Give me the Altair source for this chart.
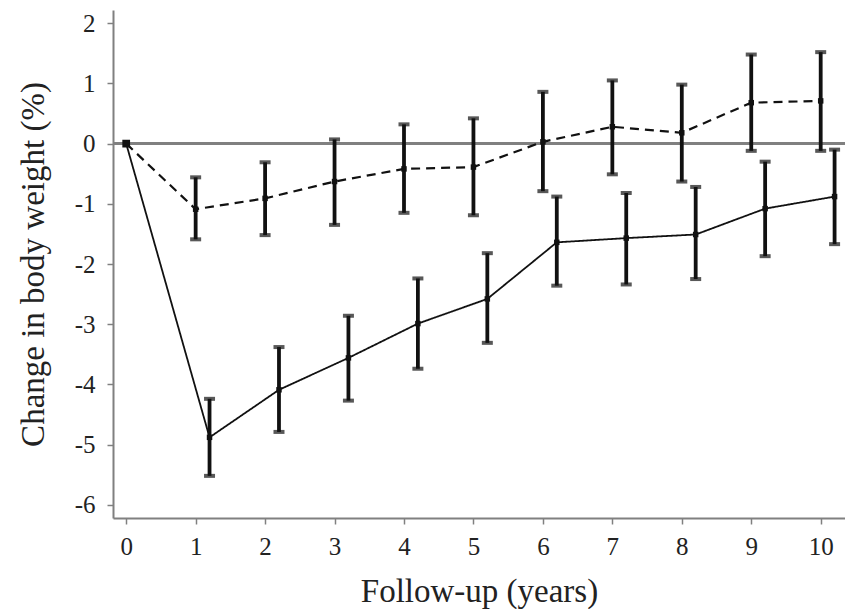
import altair as alt
import pandas as pd

# Data
dashed_x = [0, 1, 2, 3, 4, 5, 6, 7, 8, 9, 10]
dashed_y = [0.0, -1.09, -0.91, -0.63, -0.42, -0.39, 0.03, 0.28, 0.18, 0.68, 0.71]
dashed_lo = [None, -1.59, -1.52, -1.35, -1.15, -1.19, -0.79, -0.51, -0.63, -0.12, -0.12]
dashed_hi = [None, -0.56, -0.31, 0.07, 0.32, 0.42, 0.86, 1.05, 0.98, 1.48, 1.52]

solid_x = [0, 1.2, 2.2, 3.2, 4.2, 5.2, 6.2, 7.2, 8.2, 9.2, 10.2]
solid_y = [0.0, -4.88, -4.09, -3.56, -2.99, -2.58, -1.64, -1.57, -1.51, -1.08, -0.88]
solid_lo = [None, -5.52, -4.79, -4.27, -3.74, -3.31, -2.36, -2.34, -2.25, -1.87, -1.67]
solid_hi = [None, -4.24, -3.38, -2.86, -2.24, -1.82, -0.88, -0.82, -0.72, -0.30, -0.10]

x_ticks = [0, 1, 2, 3, 4, 5, 6, 7, 8, 9, 10]
y_ticks = [-6, -5, -4, -3, -2, -1, 0, 1, 2]

FONT = "Liberation Serif"

dashed = pd.DataFrame({"x": dashed_x, "y": dashed_y, "lo": dashed_lo, "hi": dashed_hi})
solid = pd.DataFrame({"x": solid_x, "y": solid_y, "lo": solid_lo, "hi": solid_hi})

xscale = alt.Scale(domain=[-0.19, 10.35], nice=False, zero=False)
yscale = alt.Scale(domain=[-6.22, 2.22], nice=False, zero=False)

X = alt.X("x:Q", scale=xscale,
          axis=alt.Axis(values=x_ticks, title="Follow-up (years)", grid=False,
                        labelExpr="'' + datum.value", titlePadding=16,
                        labelPadding=10, titleFontSize=33))
Y = alt.Y("y:Q", scale=yscale,
          axis=alt.Axis(values=y_ticks, title="Change in body weight (%)", grid=False,
                        labelExpr="'' + datum.value", titlePadding=24,
                        labelPadding=12, titleFontSize=33))

zero = alt.Chart(pd.DataFrame({"z": [0]})).mark_rule(color="#808080", strokeWidth=3).encode(
    y=alt.Y("z:Q", scale=yscale)
)

def series(df, dash, lw):
    base = alt.Chart(df)
    line = base.mark_line(color="#111", strokeWidth=lw, strokeDash=dash).encode(x=X, y=Y)
    eb = base.transform_filter("datum.lo != null")
    rule = eb.mark_rule(color="#111", strokeWidth=3.8).encode(
        x="x:Q", y=alt.Y("lo:Q", scale=yscale), y2="hi:Q")
    cap_lo = eb.mark_tick(color="#111", orient="horizontal", size=11, thickness=4).encode(
        x="x:Q", y=alt.Y("lo:Q", scale=yscale))
    cap_hi = eb.mark_tick(color="#111", orient="horizontal", size=11, thickness=4).encode(
        x="x:Q", y=alt.Y("hi:Q", scale=yscale))
    pts = eb.mark_square(color="#111", size=30, opacity=1).encode(x="x:Q", y=alt.Y("y:Q", scale=yscale))
    return [line, rule, cap_lo, cap_hi, pts]

origin = alt.Chart(pd.DataFrame({"x": [0], "y": [0]})).mark_square(
    color="#111", size=60, opacity=1).encode(x="x:Q", y=alt.Y("y:Q", scale=yscale))

chart = alt.layer(
    zero,
    *series(dashed, [9, 6], 2.2),
    *series(solid, [1, 0], 1.8),
    origin,
).properties(
    width=732, height=508,
    autosize=alt.AutoSizeParams(type="none"),
    padding={"left": 113, "top": 10, "right": 0, "bottom": 91},
).configure_view(stroke=None).configure_axis(
    domainColor="#808080", domainWidth=2, tickColor="#808080", tickWidth=1.5, tickSize=6,
    labelFont=FONT, labelFontSize=25, labelColor="#222",
    titleFont=FONT, titleColor="#222", titleFontWeight="normal",
)

chart.save("out.html", embed_options={"renderer": "svg", "actions": False})
